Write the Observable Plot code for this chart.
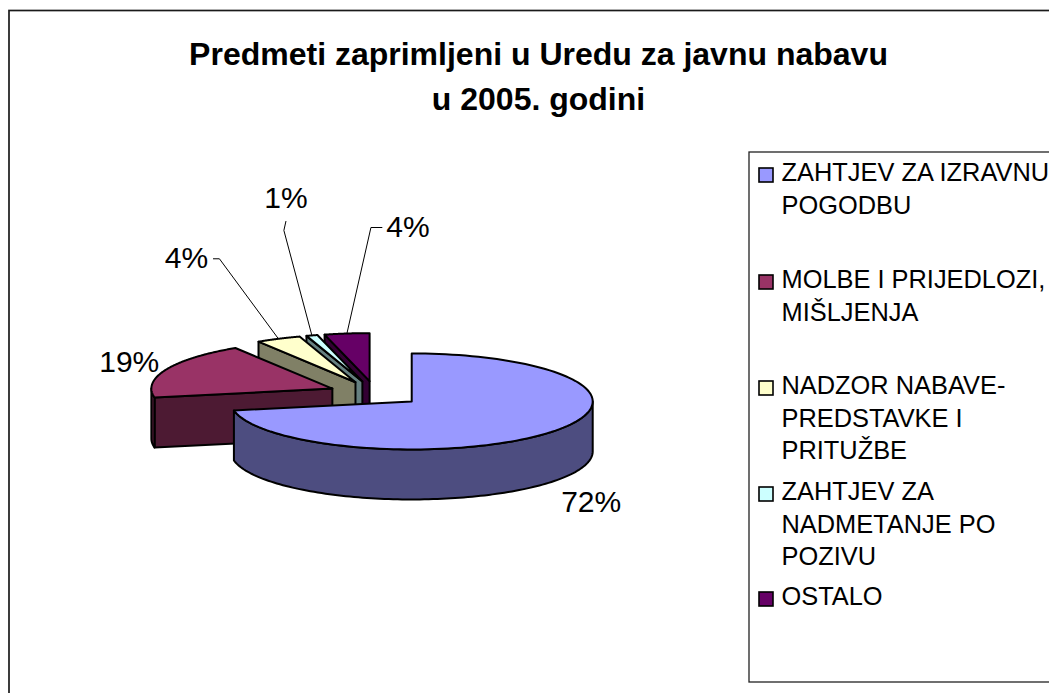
<!DOCTYPE html>
<html>
<head>
<meta charset="utf-8">
<script src="https://cdn.jsdelivr.net/npm/d3@7"></script>
<script src="https://cdn.jsdelivr.net/npm/@observablehq/plot@0.6"></script>
<style>html,body{margin:0;padding:0;background:#fff;overflow:hidden}svg{display:block}</style>
</head>
<body>
<div id="chart"></div>
<script>
const title = "Predmeti zaprimljeni u Uredu za javnu nabavu\nu 2005. godini";
const categories = ["ZAHTJEV ZA IZRAVNU\nPOGODBU", "MOLBE I PRIJEDLOZI,\nMIŠLJENJA", "NADZOR NABAVE-\nPREDSTAVKE I\nPRITUŽBE", "ZAHTJEV ZA\nNADMETANJE PO\nPOZIVU", "OSTALO"];
const values = [72, 19, 4, 1, 4];
const topColors = ["#9999ff", "#993366", "#ffffcc", "#ccffff", "#660066"];
const sideColors = ["#4d4d80", "#4d1a33", "#808066", "#668080", "#330033"];

// layout of the 3D pie, in chart units
const W = 1049, H = 693;
const pie3d = {cx: 375, cy: 393, rx: 181, ry: 48, depth: 50, explode: 47};
const legendRowY = [182, 289, 395, 501, 606];
const legendBox = {x1: 749, x2: 1070, y1: 152, y2: 682};
const frame = {x1: 9, x2: 1070, y1: 10.5, y2: 710};
// label offset from each slice's rim midpoint, and elbow of its leader (null: no leader)
const labelOffset = [[40, 70], [-37, -7], [-92, -80], [-26, -137], [61, -106]];
const elbowOffset = [null, null, [-59, -80], [-28, -105], [24, -106]];

const TAU = 2 * Math.PI, total = d3.sum(values);
let acc = 0;
const slices = values.map((v, i) => {
  const a0 = acc / total * TAU; acc += v; const a1 = acc / total * TAU;
  const mid = (a0 + a1) / 2;
  return {i, cat: categories[i], a0, a1, mid,
    ax: pie3d.cx + pie3d.explode * Math.sin(mid),
    ay: pie3d.cy - pie3d.explode * Math.cos(mid) * pie3d.ry / pie3d.rx};
});
const rim = (s, a, dz = 0) => [s.ax + pie3d.rx * Math.sin(a), s.ay - pie3d.ry * Math.cos(a) + dz];
const arcPts = (s, a0, a1, dz = 0) => d3.range(0, 121).map(k => rim(s, a0 + (a1 - a0) * k / 120, dz));

const poly = (pts, fill) => Plot.line([...pts, pts[0]], {x: d => d[0], y: d => d[1], fill, stroke: "#000", strokeWidth: 2, strokeLinejoin: "round", curve: "linear"});

const pieMarks = [];
[4, 3, 2, 1, 0].forEach(i => {
  const s = slices[i];
  const apex = [s.ax, s.ay], apexLow = [s.ax, s.ay + pie3d.depth];
  if (s.a0 > 0) pieMarks.push(poly([apex, rim(s, s.a0), rim(s, s.a0, pie3d.depth), apexLow], sideColors[i]));
  const f0 = Math.max(s.a0, Math.PI / 2), f1 = Math.min(s.a1, 1.5 * Math.PI);
  if (f1 > f0) pieMarks.push(poly([...arcPts(s, f0, f1), ...arcPts(s, f1, f0, pie3d.depth)], sideColors[i]));
  pieMarks.push(poly([apex, ...arcPts(s, s.a0, s.a1)], topColors[i]));
});

const labelRows = slices.map(s => {
  const r = rim(s, s.mid), o = labelOffset[s.i], e = elbowOffset[s.i];
  return {text: Math.round(values[s.i] / total * 100) + "%", x: r[0] + o[0], y: r[1] + o[1], r,
    elbow: e && [r[0] + e[0], r[1] + e[1]], label: [r[0] + o[0], r[1] + o[1]]};
});
const leaderStart = [null, null, [27, 0], [0, 23], [-26, 0]];
const leaders = labelRows.filter(d => d.elbow).map(d => {
  const i = labelRows.indexOf(d), st = leaderStart[i];
  return [[d.label[0] + st[0], d.label[1] + st[1]], d.elbow, d.r];
});

const chart = Plot.plot({
  width: W, height: H, margin: 0,
  x: {domain: [0, W], range: [0, W], axis: null},
  y: {domain: [0, H], range: [0, H], axis: null},
  color: {domain: categories, range: topColors},
  style: {background: "#fff", fontFamily: "'Liberation Sans', Arial, sans-serif"},
  marks: [
    Plot.rect([frame], {x1: "x1", x2: "x2", y1: "y1", y2: "y2", fill: "#fff", stroke: "#1a1a1a", strokeWidth: 1.7}),
    Plot.rect([legendBox], {x1: "x1", x2: "x2", y1: "y1", y2: "y2", fill: "#fff", stroke: "#222", strokeWidth: 1.3}),
    ...pieMarks,
    ...leaders.map(l => Plot.line(l, {x: d => d[0], y: d => d[1], stroke: "#000", strokeWidth: 1})),
    Plot.text(labelRows, {x: "x", y: "y", text: "text", fontSize: 30, fill: "#000", textAnchor: "middle"}),
    Plot.text([title], {x: () => 538, y: () => 66, text: d => d, fontSize: 32, fontWeight: "bold", fill: "#000", lineAnchor: "top", lineHeight: 1.406, dy: -33, textAnchor: "middle"}),
    Plot.rect(categories, {x1: () => 759, x2: () => 773, y1: (d, i) => legendRowY[i] - 14, y2: (d, i) => legendRowY[i], fill: d => d, stroke: "#000", strokeWidth: 1.6}),
    Plot.text(categories, {x: () => 781, y: (d, i) => legendRowY[i], text: d => d, fontSize: 25.4, fill: "#000", textAnchor: "start", lineAnchor: "top", lineHeight: 1.272, dy: -24})
  ]
});
document.getElementById("chart").append(chart);
</script>
</body>
</html>
